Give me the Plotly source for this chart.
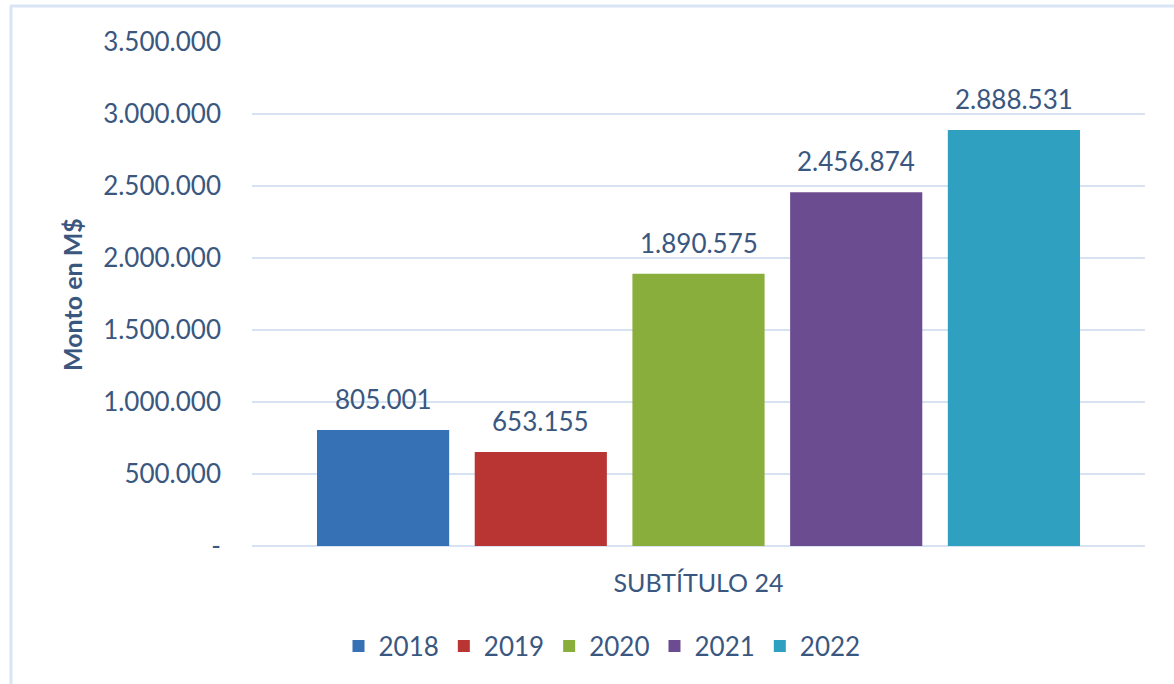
import plotly.graph_objects as go

category = ["SUBTÍTULO 24"]
years = ["2018", "2019", "2020", "2021", "2022"]
values = [805001, 653155, 1890575, 2456874, 2888531]
colors = ["#3670b5", "#b83533", "#8aae3b", "#6c4c90", "#2fa0bf"]
tick_vals = [0, 500000, 1000000, 1500000, 2000000, 2500000, 3000000, 3500000]
tick_text = ["-", "500.000", "1.000.000", "1.500.000", "2.000.000", "2.500.000", "3.000.000", "3.500.000"]

TXT = "#3a5780"
FONT = "Lato"

W, H = 1174, 684
L, R, T, B = 252, 29, 42, 138
pw, ph = W - L - R, H - T - B
BARGAP, GROUPGAP = 0.117, 0.162

def px(x):
    return (x - L) / pw

def py(y):
    return (T + ph - y) / ph

fig = go.Figure()
for yr, v, c in zip(years, values, colors):
    fig.add_trace(go.Bar(
        name=yr, x=category, y=[v],
        marker=dict(color=c, line=dict(width=0)),
        cliponaxis=False,
    ))

slot = pw * (1 - BARGAP) / len(years)
annotations = []
for i, v in enumerate(values):
    annotations.append(dict(
        x=category[0], y=v, xref="x", yref="y", text=f"{v:,}".replace(",", "."),
        showarrow=False, xanchor="center", yanchor="bottom",
        xshift=(i - (len(values) - 1) / 2) * slot, yshift=13,
        font=dict(family=FONT, size=26, color=TXT)))
annotations.append(dict(text="<b>Monto en M$</b>", textangle=-90, xref="paper", yref="paper",
                        x=px(72), y=py(295), xanchor="center", yanchor="middle",
                        showarrow=False, font=dict(family=FONT, size=25, color=TXT)))

fig.update_layout(
    width=W, height=H,
    margin=dict(l=L, r=R, t=T, b=B),
    paper_bgcolor="white", plot_bgcolor="white",
    separators=",.",
    barmode="group", bargap=BARGAP, bargroupgap=GROUPGAP,
    font=dict(family=FONT, color=TXT, size=26),
    showlegend=True,
    legend=dict(orientation="h", x=px(602), xanchor="center", y=py(646), yanchor="middle",
                font=dict(family=FONT, size=26, color=TXT), traceorder="normal",
                itemwidth=30),
    xaxis=dict(showgrid=False, showline=False, ticks="", ticklabelstandoff=20,
               tickfont=dict(size=25, color=TXT)),
    yaxis=dict(range=[0, 3500000], tickvals=tick_vals, ticktext=tick_text,
               showgrid=True, gridcolor="#d7e3f2", gridwidth=2,
               zeroline=True, zerolinecolor="#d7e3f2", zerolinewidth=2,
               showline=False, ticks="", ticklabelstandoff=30,
               tickfont=dict(size=26, color=TXT)),
    annotations=annotations,
    shapes=[
        dict(type="line", xref="paper", yref="paper", x0=px(11), x1=px(11), y0=py(6), y1=py(700),
             line=dict(color="#d9e5f4", width=3)),
        dict(type="line", xref="paper", yref="paper", x0=px(10), x1=px(1200), y0=py(6), y1=py(6),
             line=dict(color="#d9e5f4", width=3)),
    ],
)

fig.write_html("out.html", config={"displayModeBar": False},
               post_script="document.body.style.margin='0';")
